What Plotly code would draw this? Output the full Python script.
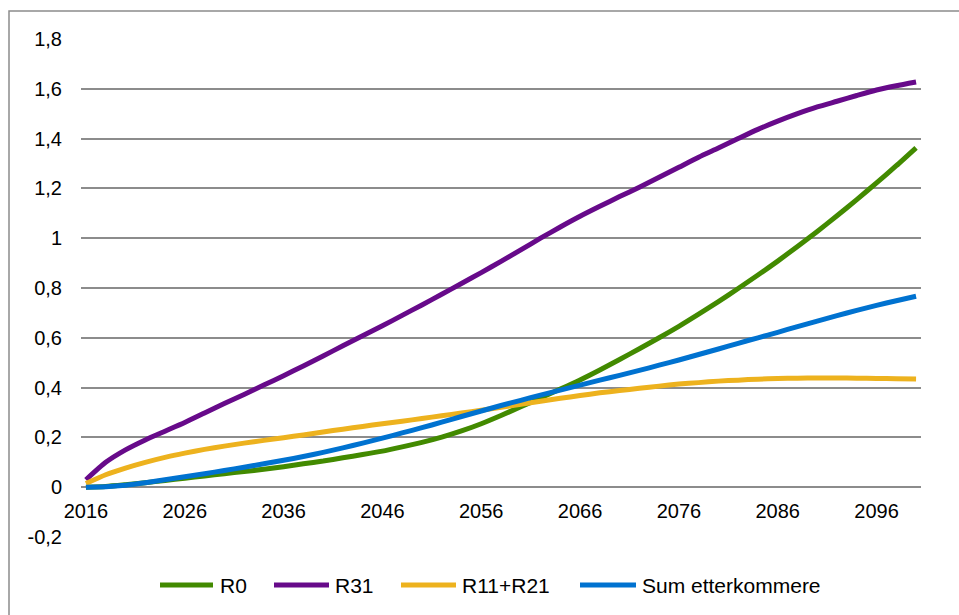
import plotly.graph_objects as go

# Years (every second year, 2016-2100)
years = list(range(2016, 2101, 2))

r0 = [0.0, 0.003, 0.01, 0.018, 0.027, 0.036, 0.045, 0.054, 0.063, 0.072,
      0.082, 0.094, 0.105, 0.118, 0.131, 0.145, 0.162, 0.18, 0.201, 0.226,
      0.255, 0.288, 0.323, 0.358, 0.394, 0.431, 0.471, 0.513, 0.556, 0.6,
      0.646, 0.695, 0.745, 0.798, 0.852, 0.908, 0.967, 1.027, 1.09, 1.155,
      1.222, 1.291, 1.363]

r31 = [0.03, 0.1, 0.15, 0.19, 0.225, 0.26, 0.298, 0.336, 0.372, 0.41,
       0.448, 0.487, 0.527, 0.568, 0.608, 0.648, 0.69, 0.732, 0.775, 0.818,
       0.862, 0.907, 0.953, 1.0, 1.045, 1.088, 1.128, 1.167, 1.205, 1.245,
       1.285, 1.325, 1.362, 1.4, 1.437, 1.47, 1.5, 1.527, 1.55, 1.573,
       1.595, 1.612, 1.627]

r11_r21 = [0.015, 0.05, 0.077, 0.1, 0.12, 0.137, 0.152, 0.165, 0.177, 0.188,
           0.199, 0.21, 0.222, 0.233, 0.244, 0.255, 0.265, 0.276, 0.287, 0.298,
           0.309, 0.321, 0.333, 0.345, 0.357, 0.368, 0.379, 0.388, 0.397, 0.406,
           0.414, 0.42, 0.426, 0.43, 0.434, 0.437, 0.438, 0.439, 0.439, 0.438,
           0.437, 0.436, 0.435]

sum_etterkommere = [0.0, 0.002, 0.008, 0.018, 0.03, 0.042, 0.054, 0.067, 0.08, 0.094,
                    0.108, 0.123, 0.14, 0.158, 0.177, 0.197, 0.218, 0.239, 0.261, 0.284,
                    0.306, 0.328, 0.349, 0.37, 0.39, 0.41, 0.43, 0.449, 0.469, 0.49,
                    0.511, 0.533, 0.555, 0.578, 0.6, 0.622, 0.645, 0.667, 0.689, 0.71,
                    0.73, 0.749, 0.767]

series_names = ["R0", "R31", "R11+R21", "Sum etterkommere"]
series_values = [r0, r31, r11_r21, sum_etterkommere]
colors = ["#428A00", "#670A8A", "#EDB21E", "#0072D0"]

x_tick_vals = list(range(2016, 2097, 10))
x_tick_text = [str(v) for v in x_tick_vals]
y_tick_vals = [-0.2, 0, 0.2, 0.4, 0.6, 0.8, 1.0, 1.2, 1.4, 1.6, 1.8]
y_tick_text = ["-0,2", "0", "0,2", "0,4", "0,6", "0,8", "1", "1,2", "1,4", "1,6", "1,8"]

W, H = 959, 615
L, R, T, B = 81, 38, 39, 78
PW, PH = W - L - R, H - T - B
X_RANGE = [2015.5, 2100.5]
Y_RANGE = [-0.2, 1.8]


def px_x(p):
    return (p - L) / PW


def px_y(p):
    return (H - B - p) / PH


fig = go.Figure()
# Series are drawn against the labelled year axis (x2), which crosses at 0
for name, vals, col in zip(series_names, series_values, colors):
    fig.add_trace(go.Scatter(x=years, y=vals, mode="lines", name=name,
                             xaxis="x2", yaxis="y",
                             line=dict(color=col, width=5, shape="spline", smoothing=0.6),
                             showlegend=False))

grid = "#8C8C8C"
font_family = "Liberation Sans, Arial, sans-serif"

x_axis_pos = (0 - Y_RANGE[0]) / (Y_RANGE[1] - Y_RANGE[0])

fig.update_layout(
    width=W, height=H,
    margin=dict(l=L, r=R, t=T, b=B),
    paper_bgcolor="white", plot_bgcolor="white",
    font=dict(family=font_family, size=20, color="black"),
    # base x axis: only its line is shown, forming the bottom gridline at -0,2
    xaxis=dict(range=X_RANGE, showgrid=False, zeroline=False,
               showline=True, linecolor=grid, linewidth=2,
               showticklabels=False, ticks=""),
    xaxis2=dict(range=X_RANGE, overlaying="x", anchor="free", position=x_axis_pos,
                side="bottom", tickvals=x_tick_vals, ticktext=x_tick_text,
                showgrid=False, zeroline=False, showline=False, ticks="",
                ticklabelstandoff=10),
    yaxis=dict(range=Y_RANGE, tickvals=y_tick_vals, ticktext=y_tick_text,
               showgrid=True, gridcolor=grid, gridwidth=2,
               zeroline=True, zerolinecolor=grid, zerolinewidth=2,
               showline=False, ticks="", ticklabelstandoff=18),
)

# Outer chart frame
fig.add_shape(type="rect", xref="paper", yref="paper",
              x0=px_x(9), x1=px_x(1100), y0=px_y(800), y1=px_y(11),
              line=dict(color="#8C8C8C", width=1.5), fillcolor="rgba(0,0,0,0)",
              layer="below")

# Legend row
legend_y = px_y(585)
legend_items = [(160, 213, 218), (274, 329, 333), (401, 456, 460), (580, 636, 640)]
for (a, b, t), name, col in zip(legend_items, series_names, colors):
    fig.add_shape(type="line", xref="paper", yref="paper",
                  x0=px_x(a), x1=px_x(b), y0=legend_y, y1=legend_y,
                  line=dict(color=col, width=5))
    fig.add_annotation(x=px_x(t), y=legend_y, xref="paper", yref="paper",
                       text=name, showarrow=False, xanchor="left", yanchor="middle",
                       font=dict(size=21, family=font_family, color="black"))

fig.write_html("out.html")
